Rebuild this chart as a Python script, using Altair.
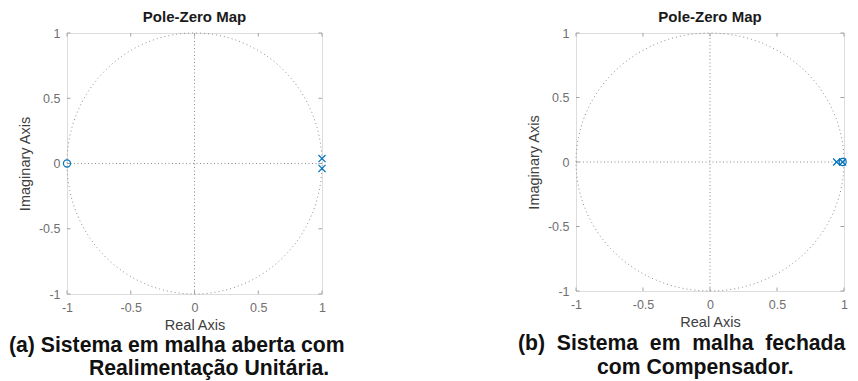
import numpy as np
import pandas as pd
import altair as alt

# ---------------- data ----------------
tick_values = [-1, -0.5, 0, 0.5, 1]

left_pole_re = [1.0, 1.0]
left_pole_im = [0.038, -0.038]
left_zero_re = [-1.0]
left_zero_im = [0.0]

right_pole_re = [0.945, 0.99]
right_pole_im = [0.0, 0.0]
right_zero_re = [0.99]
right_zero_im = [0.0]

panel_title = "Pole-Zero Map"
x_title = "Real Axis"
y_title = "Imaginary Axis"

left_caption = ["(a) Sistema em malha aberta com", "Realimentação Unitária."]
right_caption = ["(b)\u00a0\u00a0Sistema\u00a0\u00a0em\u00a0\u00a0malha\u00a0\u00a0fechada",
                 "com Compensador."]

# ---------------- style ----------------
FONT = "Liberation Sans"
BLUE = "#0072BD"
GRID = "#8c8c8c"
FRAME = "#a0a0a0"
LABEL = "#6f6f6f"
TITLE = "#404040"
CAP_SIZE = 21.2

# unit circle reference (z-plane grid)
_t = np.linspace(0, 2 * np.pi, 361)
circle_df = pd.DataFrame({"re": np.cos(_t), "im": np.sin(_t), "k": np.arange(len(_t))})


def text_layer(text, xo, yo, size, weight, color, align="left"):
    return alt.Chart(pd.DataFrame({"t": [text]})).mark_text(
        align=align, baseline="alphabetic", font=FONT, fontSize=size,
        fontWeight=weight, color=color
    ).encode(x=alt.value(xo), y=alt.value(yo), text="t:N")


def make_panel(pr, pi, zr, zi, w, h, captions):
    xscale = alt.Scale(domain=[-1, 1], nice=False, zero=False)
    yscale = alt.Scale(domain=[-1, 1], nice=False, zero=False)
    common = dict(values=tick_values, labelExpr="'' + datum.value", grid=False,
                  domain=False, ticks=False, labelPadding=7, labelFontSize=12.5,
                  titleFontSize=14.5, labelColor=LABEL, titleColor=TITLE,
                  labelFont=FONT, titleFont=FONT, titleFontWeight="normal",
                  labelFlush=False)
    xaxis = alt.Axis(title=x_title, titlePadding=5, **common)
    yaxis = alt.Axis(title=y_title, titlePadding=6, **common)

    def X():
        return alt.X("re:Q", scale=xscale, axis=xaxis)

    def Y():
        return alt.Y("im:Q", scale=yscale, axis=yaxis)

    circle = alt.Chart(circle_df).mark_line(
        color=GRID, strokeDash=[1, 3], strokeWidth=1
    ).encode(x=X(), y=Y(), order="k:Q")

    vline = alt.Chart(pd.DataFrame({"re": [0.0], "im": [-1.0], "im2": [1.0]})).mark_rule(
        color=GRID, strokeDash=[1, 2.5], strokeWidth=1
    ).encode(x=X(), y=Y(), y2="im2:Q")
    hline = alt.Chart(pd.DataFrame({"re": [-1.0], "re2": [1.0], "im": [0.0]})).mark_rule(
        color=GRID, strokeDash=[1, 2.5], strokeWidth=1
    ).encode(x=X(), x2="re2:Q", y=Y())

    tl = 3.5
    xt = pd.DataFrame({"re": tick_values})
    yt = pd.DataFrame({"im": tick_values})
    tick_style = dict(color=FRAME, strokeWidth=1)
    t_bottom = alt.Chart(xt).mark_rule(**tick_style).encode(x=X(), y=alt.value(h), y2=alt.value(h - tl))
    t_top = alt.Chart(xt).mark_rule(**tick_style).encode(x=X(), y=alt.value(0), y2=alt.value(tl))
    t_left = alt.Chart(yt).mark_rule(**tick_style).encode(y=Y(), x=alt.value(0), x2=alt.value(tl))
    t_right = alt.Chart(yt).mark_rule(**tick_style).encode(y=Y(), x=alt.value(w), x2=alt.value(w - tl))

    zeros = alt.Chart(pd.DataFrame({"re": zr, "im": zi})).mark_point(
        shape="circle", filled=False, size=50, color=BLUE, strokeWidth=1.2, opacity=1
    ).encode(x=X(), y=Y())
    poles = alt.Chart(pd.DataFrame({"re": pr, "im": pi})).mark_point(
        shape="M-1,-1L1,1M-1,1L1,-1", filled=False, size=50, color=BLUE, strokeWidth=1.2, opacity=1
    ).encode(x=X(), y=Y())

    layers = [circle, vline, hline, t_bottom, t_top, t_left, t_right, zeros, poles]
    layers.append(text_layer(panel_title, w / 2, -11.5, 15, "bold", "#1a1a1a", align="center"))
    for text, xo, yo, size in captions:
        layers.append(text_layer(text, xo, yo, size, "bold", "#111111"))

    return alt.layer(*layers).properties(width=w, height=h)


left = make_panel(left_pole_re, left_pole_im, left_zero_re, left_zero_im, 255, 261,
                  [(left_caption[0], -58, 318.5, CAP_SIZE), (left_caption[1], 22, 342, CAP_SIZE)])
right = make_panel(right_pole_re, right_pole_im, right_zero_re, right_zero_im, 268, 258,
                   [(right_caption[0], -58, 317, CAP_SIZE), (right_caption[1], 21, 341, CAP_SIZE)])

chart = alt.hconcat(left, right, spacing=254, bounds="flush").properties(
    padding={"left": 0, "top": 1, "right": 0, "bottom": 0}
).configure_view(stroke=FRAME, strokeWidth=1.5).configure(font=FONT)

chart.save("out.html", embed_options={"renderer": "svg", "actions": False})
